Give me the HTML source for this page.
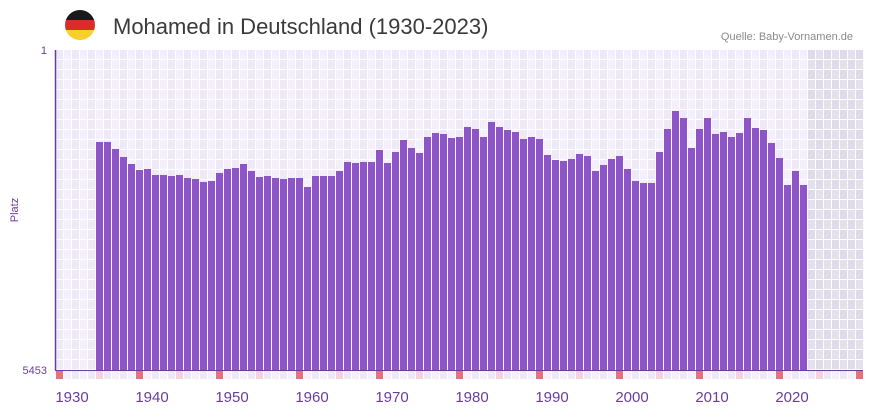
<!DOCTYPE html>
<html><head><meta charset="utf-8"><style>
html,body{margin:0;padding:0;background:#fff;width:873px;height:412px;overflow:hidden}
svg{display:block;font-family:"Liberation Sans","DejaVu Sans",sans-serif}
</style></head><body>
<svg id="s" width="873" height="412" viewBox="0 0 873 412" xmlns="http://www.w3.org/2000/svg">
<defs><clipPath id="c"><circle cx="80" cy="25" r="15"/></clipPath></defs>
<g clip-path="url(#c)">
<rect x="65" y="10" width="30" height="10" fill="#1a1a1a"/>
<rect x="65" y="20" width="30" height="10" fill="#dd2b2b"/>
<rect x="65" y="30" width="30" height="10" fill="#f9d02b"/>
</g>
<text x="113" y="34" font-size="22" fill="#3a3a3a">Mohamed in Deutschland (1930-2023)</text>
<text x="853" y="40" font-size="11" fill="#8a8a8a" text-anchor="end">Quelle: Baby-Vornamen.de</text>
<text x="47" y="54" font-size="11" fill="#6a3d9a" text-anchor="end">1</text>
<text x="47" y="374" font-size="11" fill="#6a3d9a" text-anchor="end">5453</text>
<text transform="translate(18,210) rotate(-90)" font-size="11" fill="#6a3d9a" text-anchor="middle">Platz</text>
<g id="g"></g>
<line x1="55.5" y1="50" x2="55.5" y2="370" stroke="#6a3d9a" stroke-width="1.5"/>
<line x1="55" y1="370.5" x2="863" y2="370.5" stroke="#6a3d9a" stroke-width="1"/>
<g font-size="15" fill="#6a3d9a" text-anchor="middle">
<text x="72" y="402">1930</text><text x="152" y="402">1940</text><text x="232" y="402">1950</text>
<text x="312" y="402">1960</text><text x="392" y="402">1970</text><text x="472" y="402">1980</text>
<text x="552" y="402">1990</text><text x="632" y="402">2000</text><text x="712" y="402">2010</text>
<text x="792" y="402">2020</text>
</g>
</svg>
<script>
var tops=[142,142,149,157,164,170,169,175,175,176,175,178,179,182,181,173,169,168,164,171,177,176,178,179,178,178,187,176,176,176,171,162,163,162,162,150,163,152,140,148,153,137,133,134,138,137,127,129,137,122,127,130,132,139,137,139,155,160,161,159,154,156,171,165,159,156,169,181,183,183,152,129,111,118,148,129,118,134,132,137,133,118,128,130,143,158,185,171,185];
var g=document.getElementById('g'),h='';
for(var i=0;i<101;i++){var x=56+i*8;if(x>=863)break;var w=Math.min(7,863-x);
 for(var r=0;r<32;r++){var y=50+r*10;var shade=x>=807;
  var col=shade?((i+r)%2?'#e4e0ec':'#e0dbeb'):((i%2)?'#f3effb':'#eee8f8');
  h+='<rect x="'+x+'" y="'+y+'" width="'+w+'" height="9" fill="'+col+'"/>';}
 var mc=(i%10==0)?'#e5717a':(i%10==5)?'#f5d3dc':(i%2?'#f3effb':'#eee8f8');
 h+='<rect x="'+x+'" y="371" width="'+w+'" height="8" fill="'+mc+'"/>';}
for(var k=0;k<tops.length;k++){var x=56+(k+5)*8;
 h+='<rect x="'+x+'" y="'+tops[k]+'" width="7" height="'+(370-tops[k])+'" fill="#8e55c9"/>';}
g.innerHTML=h;
</script>
</body></html>
